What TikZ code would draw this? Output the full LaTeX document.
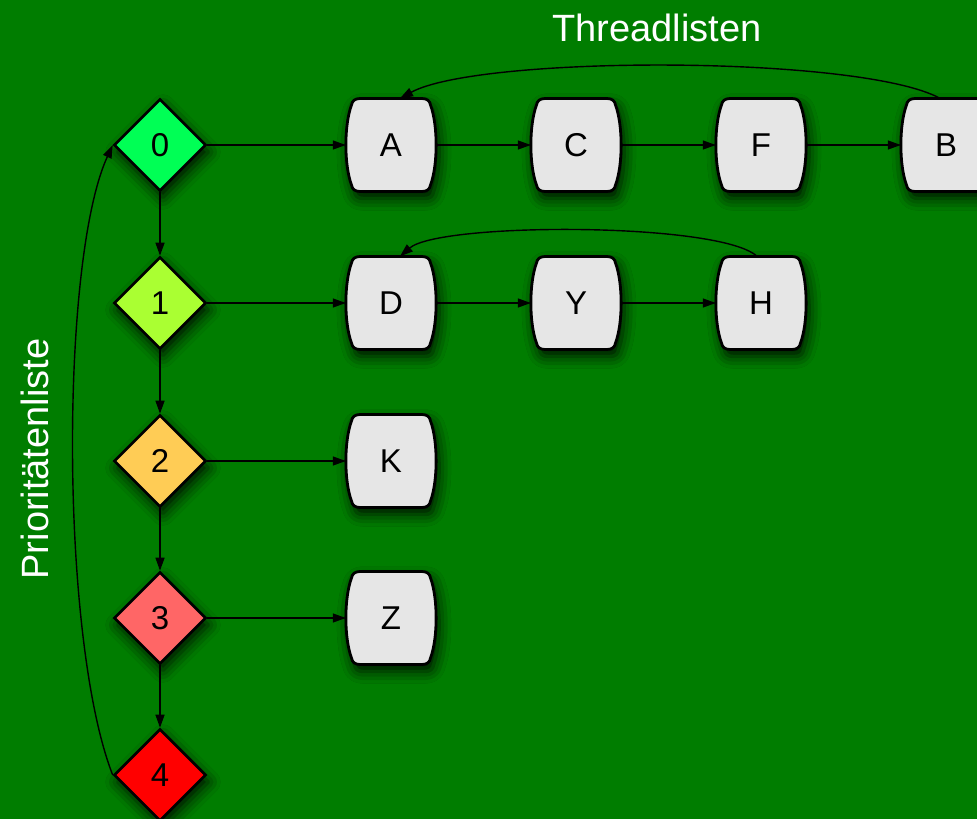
\documentclass[tikz,border=0pt]{standalone}
\usepackage{fontspec}
\setmainfont{Liberation Sans}
\usetikzlibrary{shapes.geometric,arrows.meta,calc,shadows.blur}
\definecolor{bg}{RGB}{0,125,0}
\definecolor{boxfill}{RGB}{230,230,230}
\definecolor{c0}{RGB}{0,255,85}
\definecolor{c1}{RGB}{170,255,50}
\definecolor{c2}{RGB}{255,204,85}
\definecolor{c3}{RGB}{255,102,102}
\definecolor{c4}{RGB}{255,0,0}
\tikzset{
  diam/.style={diamond, draw=black, line width=2.6pt, minimum width=92pt, minimum height=92pt,
    inner sep=0pt, shape aspect=1, font=\fontsize{33}{35}\selectfont,
    blur shadow={shadow blur radius=12pt, shadow xshift=3pt, shadow yshift=-7pt, shadow opacity=85}},
  boxshape/.style={draw=black, line width=2.8pt, fill=boxfill,
    blur shadow={shadow blur radius=12pt, shadow xshift=3pt, shadow yshift=-7pt, shadow opacity=85}},
  boxtext/.style={minimum width=90pt, minimum height=93pt, inner sep=0pt, font=\fontsize{33}{35}\selectfont},
  conn/.style={line width=1.4pt, -{Stealth[length=13pt,width=9pt,inset=0pt,fill=black]}},
  label/.style={text=white, font=\fontsize{38}{40}\selectfont}
}
\newcommand\tbox[4]{%
  \path[boxshape, shift={(#2,#3)}] (-31,-46.5) -- (31,-46.5)
    .. controls (36,-46.5) and (39,-44) .. (39.5,-40)
    .. controls (47,-20) and (47,20) .. (39.5,40)
    .. controls (39,44) and (36,46.5) .. (31,46.5)
    -- (-31,46.5)
    .. controls (-36,46.5) and (-39,44) .. (-39.5,40)
    .. controls (-47,20) and (-47,-20) .. (-39.5,-40)
    .. controls (-39,-44) and (-36,-46.5) .. (-31,-46.5) -- cycle;
  \node[boxtext] (#1) at (#2,#3) {#4};}
\begin{document}
\begin{tikzpicture}[x=1pt,y=-1pt]
\fill[bg] (0,0) rectangle (977,819);
\useasboundingbox (0,0) rectangle (977,819);
% priority diamonds
\node[diam, fill=c0] (p0) at (160,145) {0};
\node[diam, fill=c1] (p1) at (160,303) {1};
\node[diam, fill=c2] (p2) at (160,461) {2};
\node[diam, fill=c3] (p3) at (160,618) {3};
\node[diam, fill=c4] (p4) at (160,775) {4};
% thread boxes
\tbox{A}{391}{145}{A}
\tbox{C}{576}{145}{C}
\tbox{F}{761}{145}{F}
\tbox{B}{946}{145}{B}
\tbox{D}{391}{303}{D}
\tbox{Y}{576}{303}{Y}
\tbox{H}{761}{303}{H}
\tbox{K}{391}{461}{K}
\tbox{Z}{391}{618}{Z}
% connectors
\draw[conn] (p0.south) -- (p1.north);
\draw[conn] (p1.south) -- (p2.north);
\draw[conn] (p2.south) -- (p3.north);
\draw[conn] (p3.south) -- (p4.north);
\draw[conn] (p0.east) -- (A.west);
\draw[conn] (A.east) -- (C.west);
\draw[conn] (C.east) -- (F.west);
\draw[conn] (F.east) -- (B.west);
\draw[conn] (p1.east) -- (D.west);
\draw[conn] (D.east) -- (Y.west);
\draw[conn] (Y.east) -- (H.west);
\draw[conn] (p2.east) -- (K.west);
\draw[conn] (p3.east) -- (Z.west);
\draw[conn] ($(B.north)+(-6,0)$) .. controls (860,55) and (480,55) .. ($(A.north)+(9,0)$);
\draw[conn] ($(H.north)+(-4,0)$) .. controls (720,222) and (440,222) .. ($(D.north)+(9,0)$);
\draw[conn] (p4.west) .. controls (60,640) and (60,260) .. (p0.west);
% labels
\node[label] (tl) at (657,28) {Threadlisten};
\node[label, rotate=90] (pl) at (35,459) {Prioritätenliste};
\end{tikzpicture}
\end{document}
